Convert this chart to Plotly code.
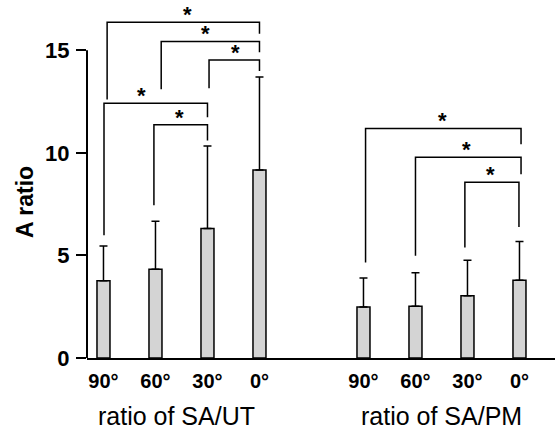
import plotly.graph_objects as go

# ---- data ----
angle_labels = ["90°", "60°", "30°", "0°", "90°", "60°", "30°", "0°"]
bar_pos = [0, 1, 2, 3, 5, 6, 7, 8]
ratio_values = [3.76, 4.33, 6.31, 9.16, 2.49, 2.52, 3.04, 3.79]
ratio_err = [1.70, 2.34, 4.02, 4.54, 1.41, 1.63, 1.73, 1.89]
group_labels = ["ratio of SA/UT", "ratio of SA/PM"]
group_centers = [1.4, 6.5]

# significance brackets: left x, right x, top y, left leg bottom, right leg bottom, star x
br_xl = [0.07, 1.11, 2.03, 0.01, 0.97, 5.04, 6.00, 6.95]
br_xr = [3.00, 3.00, 3.00, 2.00, 2.00, 8.03, 8.03, 7.99]
br_y = [16.36, 15.43, 14.52, 12.42, 11.37, 11.19, 9.79, 8.57]
br_yl = [12.6, 13.1, 13.15, 5.98, 7.45, 4.65, 4.98, 5.39]
br_yr = [15.8, 14.9, 13.99, 11.74, 10.6, 10.42, 8.96, 6.39]
star_x = [1.625, 1.97, 2.53, 0.74, 1.47, 6.52, 6.98, 7.45]

FONT = "Liberation Sans, Arial, sans-serif"

fig = go.Figure()
fig.add_trace(go.Bar(
    x=bar_pos, y=ratio_values, width=0.25,
    marker=dict(color="#d4d4d4", line=dict(color="black", width=1.5)),
    error_y=dict(type="data", symmetric=False, array=ratio_err,
                 arrayminus=[0] * len(ratio_err), color="black",
                 thickness=1.5, width=4),
    showlegend=False, hoverinfo="skip",
))

bx, by = [], []
for xl, xr, y, yl, yr in zip(br_xl, br_xr, br_y, br_yl, br_yr):
    bx += [xl, xl, xr, xr, None]
    by += [yl, y, y, yr, None]
fig.add_trace(go.Scatter(x=bx, y=by, mode="lines",
                         line=dict(color="black", width=1.5),
                         showlegend=False, hoverinfo="skip"))

for sx, y in zip(star_x, br_y):
    fig.add_annotation(x=sx, y=y, xref="x", yref="y", text="<b>*</b>",
                       showarrow=False, yanchor="bottom", yshift=-7,
                       font=dict(family=FONT, size=22, color="black"))

for gx, gl in zip(group_centers, group_labels):
    fig.add_annotation(x=gx, y=-0.162, xref="x", yref="paper", text=gl,
                       showarrow=False, yanchor="middle",
                       font=dict(family=FONT, size=25, color="black"))

fig.add_annotation(x=-0.1325, y=0.436, xref="paper", yref="paper",
                   xanchor="center", yanchor="middle",
                   text="<b>A ratio</b>", textangle=-90, showarrow=False,
                   font=dict(family=FONT, size=23, color="black"))

# y axis line only up to 15
fig.add_shape(type="line", xref="paper", yref="y", x0=0, x1=0, y0=0, y1=15,
              line=dict(color="black", width=2))

fig.update_layout(
    width=555, height=433,
    margin=dict(l=87, r=0, t=0, b=75),
    plot_bgcolor="white", paper_bgcolor="white",
    font=dict(family=FONT, color="black"),
    xaxis=dict(range=[-0.317, 8.683], tickvals=bar_pos, ticktext=angle_labels,
               showline=True, linecolor="black", linewidth=2,
               ticks="outside", ticklen=4, tickcolor="rgba(0,0,0,0)",
               tickfont=dict(family=FONT, size=20, color="black", weight="bold"),
               showgrid=False, zeroline=False),
    yaxis=dict(range=[0, 17.45], tickvals=[0, 5, 10, 15],
               showline=False, ticks="outside", ticklen=10, tickwidth=2,
               tickcolor="black", ticklabelstandoff=2,
               tickfont=dict(family=FONT, size=22, color="black", weight="bold"),
               showgrid=False, zeroline=False),
)

fig.write_html("out.html", config={"displayModeBar": False},
               post_script="document.body.style.margin='0';document.body.style.overflow='hidden';")
